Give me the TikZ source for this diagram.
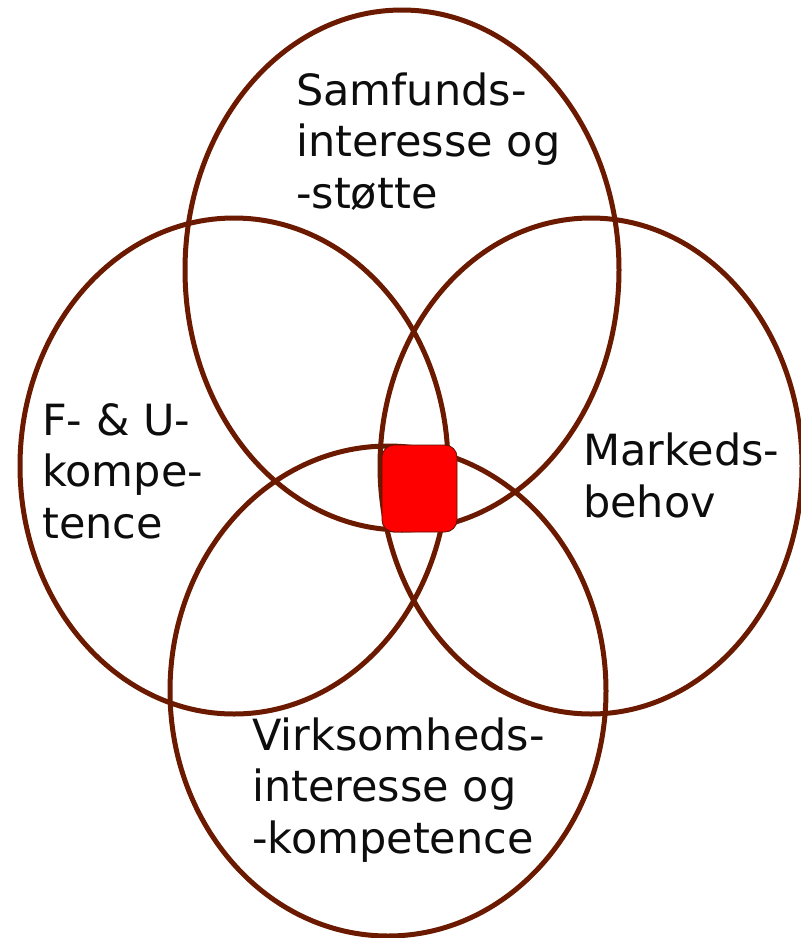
\documentclass[tikz,border=0pt]{standalone}
\usepackage{fontspec}
\setmainfont{DejaVu Sans}
\definecolor{ring}{HTML}{6B1A00}
\definecolor{core}{HTML}{FF0000}
\begin{document}
\begin{tikzpicture}[x=1pt,y=-1pt,
  ring/.style={draw=ring,line width=5pt},
  lbl/.style={inner sep=0pt,anchor=base west,align=left,font=\fontsize{43}{51.5}\selectfont,text=black!95}]
\useasboundingbox (0,0) rectangle (801,938);
\fill[white] (0,0) rectangle (801,938);
\draw[ring] (402,270) ellipse [x radius=217, y radius=260];
\draw[ring] (234,466) ellipse [x radius=214, y radius=248];
\draw[ring] (591,466) ellipse [x radius=211, y radius=248];
\draw[ring] (388,691) ellipse [x radius=218, y radius=245];
\node[draw=ring!80!black,line width=0.8pt,fill=core,rounded corners=12pt,minimum width=75pt,minimum height=87pt,inner sep=0pt] (core) at (419.5,488.5) {};
\node[lbl] (top) at (296,208) {Samfunds-\\interesse og\\-støtte};
\node[lbl] (left) at (42,538) {F- \& U-\\kompe-\\tence};
\node[lbl] (right) at (583,517) {Markeds-\\behov};
\node[lbl] (bottom) at (252,853) {Virksomheds-\\interesse og\\-kompetence};
\end{tikzpicture}
\end{document}
